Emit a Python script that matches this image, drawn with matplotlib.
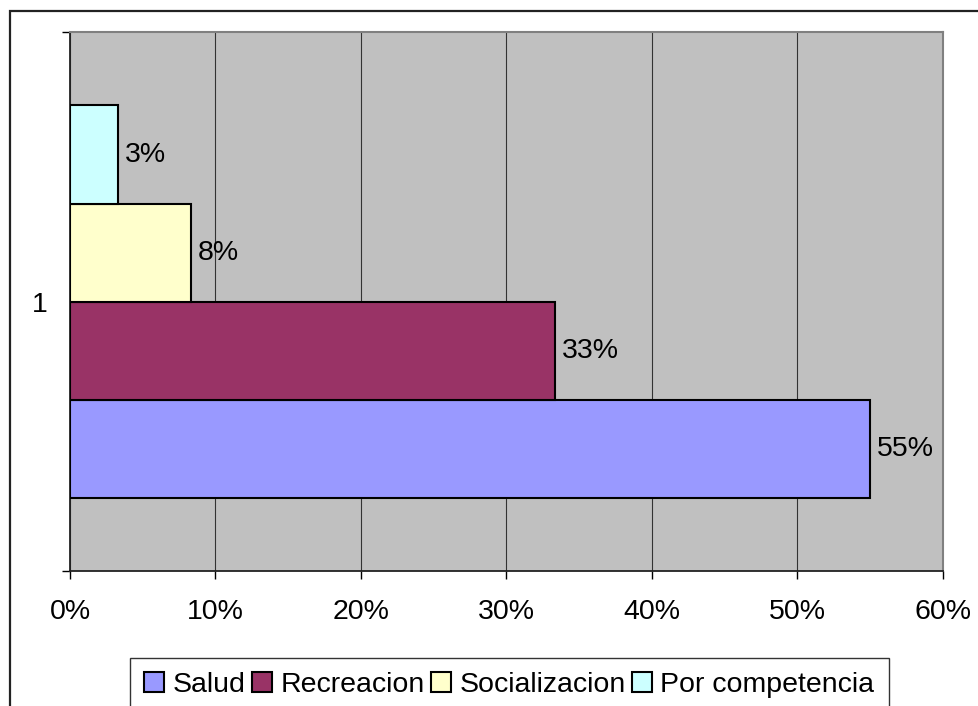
import numpy as np
import matplotlib
matplotlib.use('Agg')
import matplotlib.pyplot as plt
from matplotlib.patches import Rectangle

plt.rcParams['font.family'] = ['Liberation Sans', 'DejaVu Sans']

series = ['Salud', 'Recreacion', 'Socializacion', 'Por competencia']
values = [55.0, 33.3, 8.3, 3.3]
labels = ['55%', '33%', '8%', '3%']
colors = ['#9999FF', '#993366', '#FFFFCC', '#CCFFFF']
xticks = [0, 10, 20, 30, 40, 50, 60]

W, H = 979, 706
FS = 20.5
fig = plt.figure(figsize=(W / 100, H / 100), dpi=100)

# outer chart frame (runs off the right and bottom edges)
fig.patches.append(Rectangle((10 / W, -0.2), 1.2, 1.2 - 11 / H,
                             transform=fig.transFigure, fill=False,
                             edgecolor='#222222', linewidth=1.6))

ax = fig.add_axes([70 / W, (H - 571) / H, 873 / W, 539 / H])
ax.set_facecolor('#C0C0C0')

w = 1 / 5.5
offsets = (np.arange(len(series)) - 1.5) * w
for name, v, lab, c, off in zip(series, values, labels, colors, offsets):
    ax.barh(off, v, height=w, color=c, edgecolor='black', linewidth=1.5,
            label=name, zorder=3)
    ax.annotate(lab, (v, off), xytext=(5, 0), textcoords='offset points',
                va='center', ha='left', fontsize=FS, zorder=4)

ax.set_xlim(0, 60)
ax.set_ylim(-0.5, 0.5)
ax.set_xticks(xticks)
ax.set_xticklabels([f'{t}%' for t in xticks], fontsize=FS)
ax.tick_params(axis='x', length=6, width=1, pad=14, direction='out')
ax.xaxis.grid(True, color='#333333', linewidth=0.8, zorder=1)
ax.set_axisbelow(True)

ax.set_yticks([-0.5, 0.5])
ax.set_yticklabels([])
ax.set_yticks([0], minor=True)
ax.set_yticklabels(['1'], minor=True, fontsize=FS)
ax.tick_params(axis='y', which='major', length=6, width=1, direction='out')
ax.tick_params(axis='y', which='minor', length=0, pad=16)

for s in ['left', 'bottom']:
    ax.spines[s].set_color('#222222')
    ax.spines[s].set_linewidth(1.3)
for s in ['top', 'right']:
    ax.spines[s].set_color('#808080')
    ax.spines[s].set_linewidth(1.5)

leg = fig.legend(loc='upper left', bbox_to_anchor=(130 / W, 1 - 658 / H),
                 ncol=4, fontsize=FS, frameon=True, fancybox=False,
                 edgecolor='black', handlelength=0.7, handleheight=0.7,
                 handletextpad=0.3, columnspacing=0.22, borderpad=0.5,
                 borderaxespad=0)
leg.get_frame().set_linewidth(1.0)
for p in leg.get_patches():
    p.set_linewidth(1.5)

fig.savefig('out.png', dpi=100)
